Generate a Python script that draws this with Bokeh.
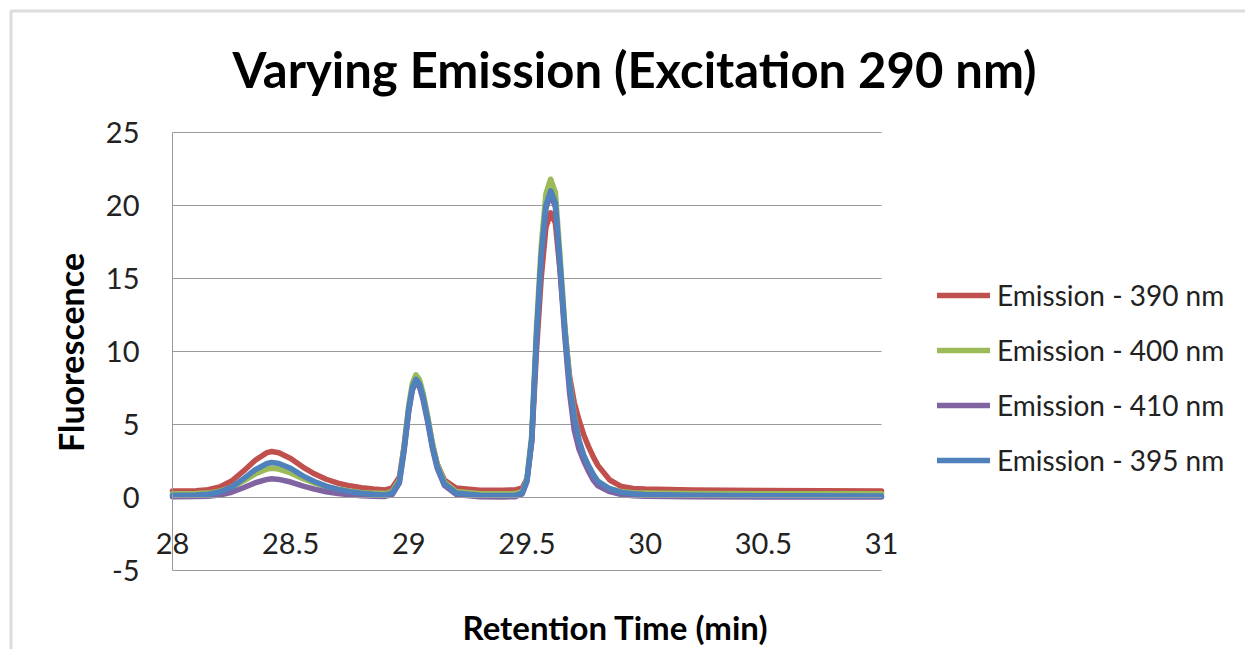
from bokeh.plotting import figure
from bokeh.models import (ColumnDataSource, FixedTicker, Legend, LegendItem, Label,
                          PolyAnnotation, Range1d, LinearAxis)
from bokeh.embed import file_html
from bokeh.resources import INLINE
from math import pi

# ---------------- data ----------------
retention_time = [28.0, 28.1, 28.15, 28.2, 28.25, 28.3, 28.35, 28.4, 28.42, 28.45, 28.5, 28.55,
                  28.6, 28.65, 28.7, 28.75, 28.8, 28.85, 28.9,
                  28.93, 28.96, 28.98, 29.0, 29.015, 29.03, 29.045, 29.06, 29.08, 29.1, 29.12,
                  29.15, 29.2, 29.3, 29.4, 29.45,
                  29.48, 29.5, 29.52, 29.54, 29.56, 29.58, 29.6, 29.62, 29.64, 29.66, 29.68,
                  29.7, 29.72, 29.74, 29.76, 29.78, 29.8, 29.85, 29.9, 29.95, 30.0, 30.2, 30.5, 31.0]

emission_390 = [0.45, 0.47, 0.53, 0.72, 1.13, 1.8, 2.55, 3.07, 3.15, 3.07, 2.67, 2.1, 1.62, 1.25, 0.98, 0.8, 0.67, 0.58, 0.52,
                0.66, 1.4, 3.5, 6.1, 7.5, 8.0, 7.7, 6.9, 5.4, 3.65, 2.3, 1.2, 0.65, 0.5, 0.5, 0.52,
                0.65, 1.3, 3.8, 10.0, 15.0, 18.5, 19.5, 18.8, 15.5, 11.5, 8.3, 6.5, 5.3, 4.3, 3.5, 2.8, 2.2, 1.2, 0.75, 0.62, 0.58, 0.52, 0.48, 0.45]

emission_400 = [0.25, 0.27, 0.3, 0.43, 0.69, 1.12, 1.61, 1.95, 2.0, 1.95, 1.68, 1.3, 0.99, 0.74, 0.57, 0.44, 0.35, 0.3, 0.27,
                0.41, 1.23, 3.5, 6.36, 7.83, 8.4, 8.07, 7.18, 5.55, 3.67, 2.29, 1.07, 0.41, 0.25, 0.25, 0.27,
                0.4, 1.3, 4.3, 11.6, 17.2, 20.8, 21.8, 20.9, 16.5, 11.8, 8.0, 5.6, 3.9, 2.85, 2.1, 1.55, 1.1, 0.6, 0.4, 0.32, 0.3, 0.28, 0.26, 0.25]

emission_410 = [0.05, 0.06, 0.09, 0.17, 0.36, 0.67, 1.01, 1.24, 1.28, 1.24, 1.06, 0.79, 0.57, 0.39, 0.27, 0.19, 0.12, 0.09, 0.07,
                0.21, 0.99, 3.19, 5.94, 7.35, 7.9, 7.59, 6.72, 5.15, 3.35, 2.01, 0.84, 0.21, 0.05, 0.04, 0.05,
                0.25, 1.1, 3.9, 10.8, 16.3, 19.8, 20.8, 19.9, 15.6, 11.0, 7.2, 4.6, 3.3, 2.5, 1.8, 1.2, 0.8, 0.4, 0.2, 0.12, 0.08, 0.05, 0.04, 0.03]

emission_395 = [0.15, 0.17, 0.22, 0.38, 0.71, 1.28, 1.9, 2.33, 2.4, 2.33, 2.0, 1.5, 1.1, 0.78, 0.56, 0.4, 0.29, 0.22, 0.18,
                0.31, 1.1, 3.33, 6.11, 7.54, 8.1, 7.78, 6.91, 5.32, 3.49, 2.14, 0.95, 0.31, 0.15, 0.13, 0.14,
                0.3, 1.2, 4.0, 11.0, 16.5, 20.0, 21.0, 20.2, 16.0, 11.5, 7.8, 5.5, 3.9, 2.9, 2.2, 1.6, 1.1, 0.6, 0.35, 0.25, 0.2, 0.15, 0.12, 0.1]

series_names = ["Emission - 390 nm", "Emission - 400 nm", "Emission - 410 nm", "Emission - 395 nm"]
series_values = [emission_390, emission_400, emission_410, emission_395]
series_colors = ["#C0504D", "#9BBB59", "#8064A2", "#4F81BD"]

x_ticks = [28, 28.5, 29, 29.5, 30, 30.5, 31]
x_tick_labels = ["28", "28.5", "29", "29.5", "30", "30.5", "31"]
y_ticks = [-5, 0, 5, 10, 15, 20, 25]
y_tick_labels = ["-5", "0", "5", "10", "15", "20", "25"]

title_text = "Varying Emission (Excitation 290 nm)"
x_title = "Retention Time (min)"
y_title = "Fluorescence"

# ---------------- figure ----------------
FONT = "Lato"
GRID = "#9a9a9a"
W, H = 1245, 649
# plot area in pixels: x 28->172, 31->881 ; y 25->132, -5->570
PX_X = (881 - 172) / 3.0
PX_Y = (570 - 132) / 30.0
x0 = 28 - 172 / PX_X
x1 = 28 + (W - 172) / PX_X
y1 = 25 + 132 / PX_Y
y0 = -5 - (H - 570) / PX_Y

p = figure(width=W, height=H, output_backend="svg", toolbar_location=None,
           x_range=Range1d(x0, x1), y_range=Range1d(y0, y1),
           x_axis_location=None, y_axis_location=None,
           min_border=0, background_fill_color="white", border_fill_color="white")
p.outline_line_color = None
p.xgrid.visible = False
p.ygrid.visible = False

# horizontal gridlines across the plot area only
p.segment(x0=[x_ticks[0]] * len(y_ticks), x1=[x_ticks[-1]] * len(y_ticks), y0=y_ticks, y1=y_ticks,
          line_color=GRID, line_width=1)

xax = LinearAxis(fixed_location=0, bounds=(x_ticks[0], x_ticks[-1]), ticker=FixedTicker(ticks=x_ticks),
                 major_label_overrides={t: l for t, l in zip(x_ticks, x_tick_labels)})
yax = LinearAxis(fixed_location=x_ticks[0], bounds=(y_ticks[0], y_ticks[-1]), ticker=FixedTicker(ticks=y_ticks),
                 major_label_overrides={t: l for t, l in zip(y_ticks, y_tick_labels)})
for ax in (xax, yax):
    ax.axis_line_color = GRID
    ax.axis_line_width = 1
    ax.major_tick_line_color = None
    ax.minor_tick_line_color = None
    ax.major_label_text_font = FONT
    ax.major_label_text_font_size = "29px"
    ax.major_label_text_color = "#222222"
xax.major_label_standoff = 29
yax.major_label_standoff = 27
p.add_layout(xax, "below")
p.add_layout(yax, "left")

renderers = []
for name, vals, col in zip(series_names, series_values, series_colors):
    src = ColumnDataSource(dict(x=retention_time, y=vals))
    r = p.line("x", "y", source=src, line_color=col, line_width=5.5,
               line_join="round", line_cap="round")
    renderers.append((name, r))

legend = Legend(items=[LegendItem(label=n, renderers=[r]) for n, r in renderers],
                location=(937, H - 477), orientation="vertical",
                glyph_width=53, glyph_height=34, label_height=34, spacing=21,
                label_standoff=7, padding=0, margin=0,
                border_line_color=None, background_fill_alpha=0,
                label_text_font=FONT, label_text_font_size="28px", label_text_color="#222222")
p.add_layout(legend, "center")

# chart border (outer frame)
bx0 = x0 + 10.5 / PX_X
by1 = y1 - 10.5 / PX_Y
p.add_layout(PolyAnnotation(xs=[bx0, x1 + 5, x1 + 5, bx0], ys=[by1, by1, y0 - 5, y0 - 5],
                            fill_alpha=0, line_color="#8f8f8f", line_width=3))

# titles
p.add_layout(Label(x=x0 + 634 / PX_X, y=y1 - 68 / PX_Y, text=title_text, text_align="center",
                   text_baseline="middle", text_font=FONT, text_font_style="bold",
                   text_font_size="49px", text_color="#000000"))
p.add_layout(Label(x=x0 + 615 / PX_X, y=y1 - 626 / PX_Y, text=x_title, text_align="center",
                   text_baseline="middle", text_font=FONT, text_font_style="bold",
                   text_font_size="33px", text_color="#000000"))
p.add_layout(Label(x=x0 + 70 / PX_X, y=y1 - 352 / PX_Y, text=y_title, angle=pi / 2, text_align="center",
                   text_baseline="middle", text_font=FONT, text_font_style="bold",
                   text_font_size="34px", text_color="#000000"))

open("out.html", "w").write(file_html(p, INLINE))
